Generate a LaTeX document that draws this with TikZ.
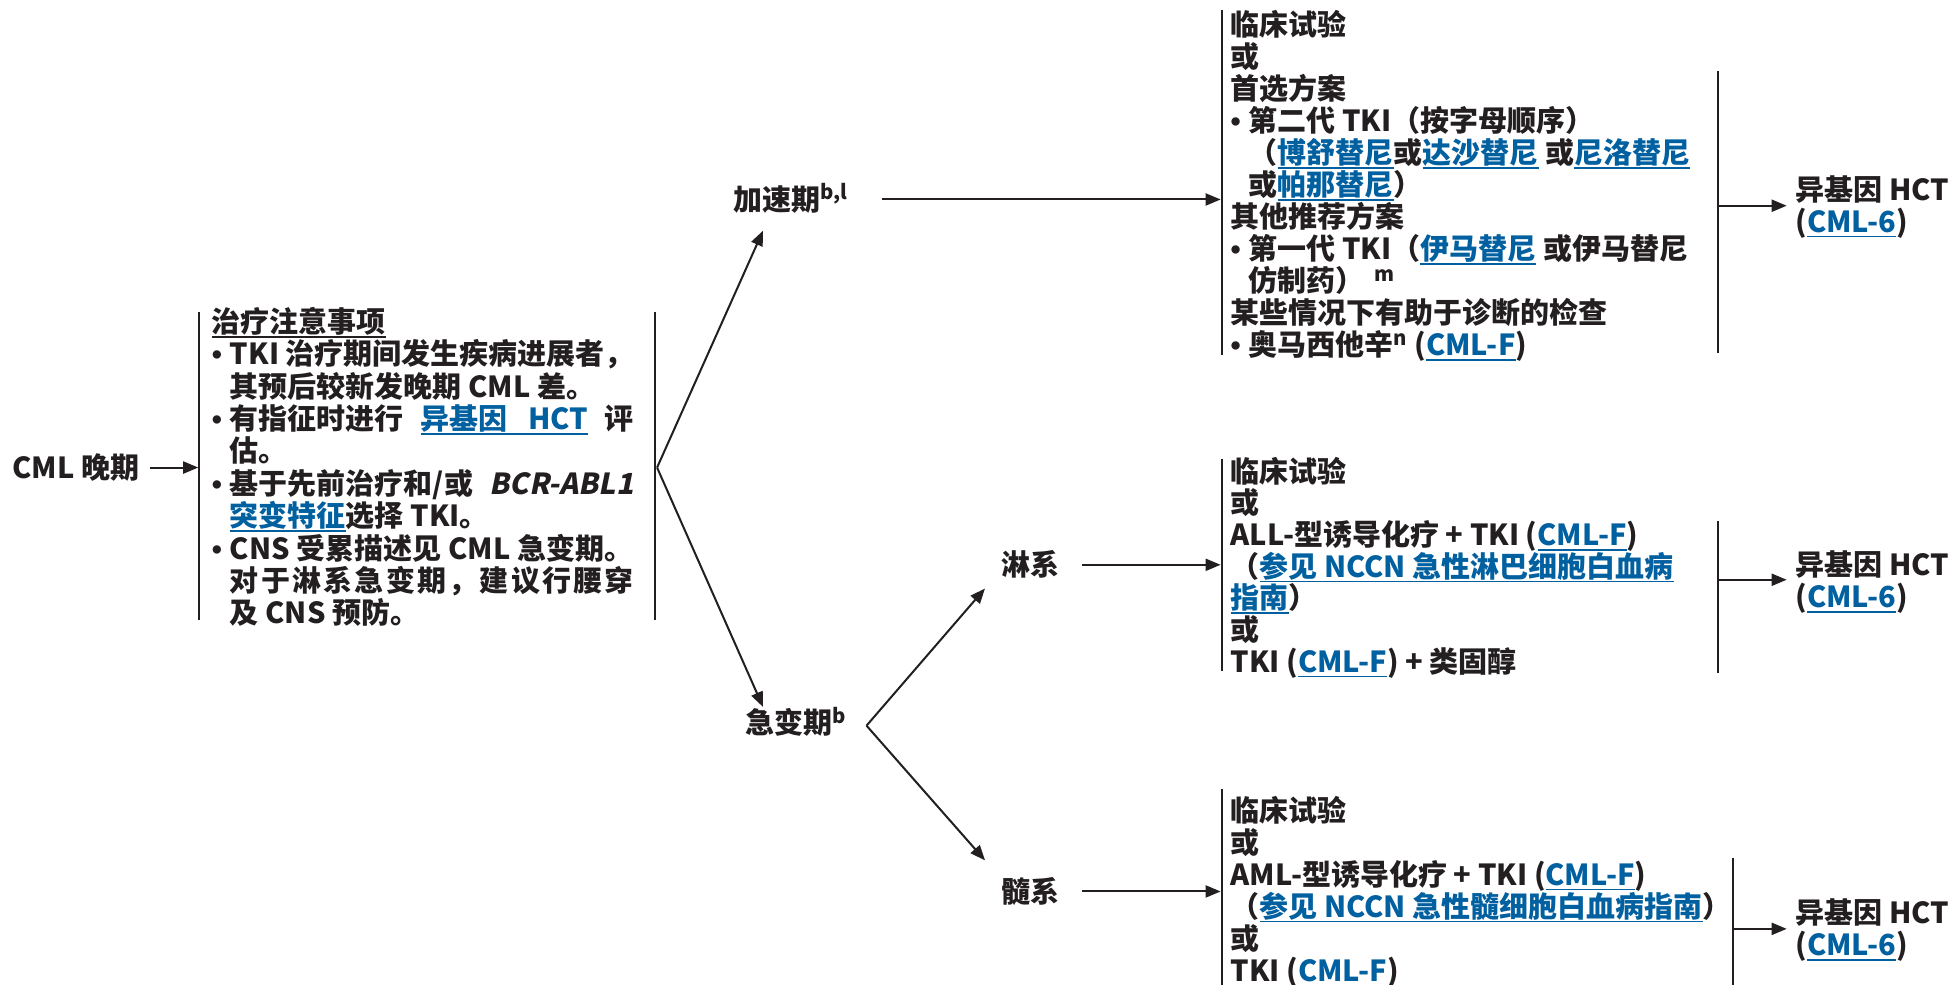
\documentclass[tikz,border=0pt]{standalone}
\usepackage{fontspec}
\setmainfont{Noto Sans CJK SC}
\newfontfamily\slfont{Noto Sans CJK SC}[FakeSlant=0.2]
\newfontfamily\bulfont{Liberation Sans}
\usetikzlibrary{arrows.meta}
\definecolor{textc}{RGB}{35,31,32}
\definecolor{linkc}{RGB}{0,96,160}
\newcommand\lk[1]{\leavevmode{\color{linkc}\setbox0=\hbox{#1}\rlap{\rule[-2.6pt]{\wd0}{0.9pt}}\box0}}
\newcommand\ulb[1]{\leavevmode{\setbox0=\hbox{#1}\rlap{\rule[-2.6pt]{\wd0}{0.9pt}}\box0}}
\newcommand\bul{\leavevmode\makebox[9pt][l]{\bulfont\bfseries •}}
\newcommand\ind{\leavevmode\hspace*{9pt}}
\newcommand\spread[2]{\hbox to #1{\spreadi#2\relax}}
\def\spreadi#1{\ifx#1\relax\else #1\expandafter\spreadii\fi}
\def\spreadii#1{\ifx#1\relax\else\hfil #1\expandafter\spreadii\fi}
\newcommand\blk[2]{\vtop{\hsize=560pt\parindent=0pt\parskip=0pt\baselineskip=#1\lineskiplimit=-\maxdimen\lineskip=0pt\rightskip=0pt plus 1fil #2\par}}
\begin{document}
\begin{tikzpicture}[x=0.6234pt,y=-0.6234pt,
  txt/.style={anchor=base west,inner sep=0pt,outer sep=0pt,text=textc,
    font=\bfseries\fontsize{14.5pt}{16pt}\selectfont},
  bar/.style={draw=textc,line width=1pt},
  arr/.style={draw=textc,line width=1pt,-{Triangle[length=7.5pt,width=6pt]}}]
\fill[white] (0,0) rectangle (1568,790);
\useasboundingbox (0,0) rectangle (1568,790);

% ---------- texts ----------
\node[txt] (cml) at (10,383.6) {CML 晚期};

\node[txt] (care) at (170,266.6) {\blk{16.2pt}{%
\ulb{治疗注意事项}\par
\bul TKI 治疗期间发生疾病进展者，\par
\ind 其预后较新发晚期 CML 差。\par
\bul \hbox to 202pt{有指征时进行\hfil\lk{异基因\hspace{0.7em}HCT}\hfil 评}\par
\ind 估。\par
\bul \hbox to 202pt{基于先前治疗和/或\hfil{\slfont\bfseries BCR-ABL1}}\par
\ind \lk{突变特征}选择 TKI。\par
\bul CNS 受累描述见 CML 急变期。\par
\ind \spread{202pt}{对于淋系急变期，建议行腰穿}\par
\ind 及 CNS 预防。}};

\node[txt] (acc) at (588,168.6) {加速期\textsuperscript{b,l}};
\node[txt] (blast) at (598,588.6) {急变期\textsuperscript{b}};
\node[txt] (lym) at (803,461.6) {淋系};
\node[txt] (mye) at (803,723.6) {髓系};

\node[txt] (accT) at (987,28.6) {\blk{16pt}{%
临床试验\par
或\par
首选方案\par
\bul 第二代 TKI（按字母顺序）\par
\ind （\lk{博舒替尼}或\lk{达沙替尼} 或\lk{尼洛替尼}\par
\ind 或\lk{帕那替尼}）\par
其他推荐方案\par
\bul 第一代 TKI（\lk{伊马替尼} 或伊马替尼\par
\ind 仿制药）\hspace{5pt}\textsuperscript{m}\par
某些情况下有助于诊断的检查\par
\bul 奥马西他辛\textsuperscript{n} (\lk{CML-F})}};

\node[txt] (lymT) at (987,386.6) {\blk{15.85pt}{%
临床试验\par
或\par
ALL-型诱导化疗 + TKI (\lk{CML-F})\par
（\lk{参见 NCCN 急性淋巴细胞白血病}\par
\lk{指南}）\par
或\par
TKI (\lk{CML-F}) + 类固醇}};

\node[txt] (myeT) at (987,658.6) {\blk{16pt}{%
临床试验\par
或\par
AML-型诱导化疗 + TKI (\lk{CML-F})\par
（\lk{参见 NCCN 急性髓细胞白血病指南}）\par
或\par
TKI (\lk{CML-F})}};

\node[txt] (hct1) at (1440,160.6) {\blk{16pt}{异基因 HCT\par (\lk{CML-6})}};
\node[txt] (hct2) at (1440,461.6) {\blk{16pt}{异基因 HCT\par (\lk{CML-6})}};
\node[txt] (hct3) at (1440,740.6) {\blk{16pt}{异基因 HCT\par (\lk{CML-6})}};

% ---------- bars ----------
\draw[bar] (160,250) -- (160,497);
\draw[bar] (525,250) -- (525,497);
\draw[bar] (980,8) -- (980,285);
\draw[bar] (1378,57) -- (1378,283);
\draw[bar] (980,368) -- (980,538);
\draw[bar] (1378,418) -- (1378,540);
\draw[bar] (980,633) -- (980,792);
\draw[bar] (1390,688) -- (1390,792);

% ---------- connector ends ----------
\coordinate (cmlS) at (120,375);
\coordinate (careL) at (159,375);
\coordinate (careR) at (527,375);
\coordinate (accIn) at (612,185);
\coordinate (blastIn) at (612,567);
\coordinate (accS) at (707,160);
\coordinate (accTL) at (979,160);
\coordinate (accTR) at (1378,165);
\coordinate (hct1In) at (1433,165);
\coordinate (blastS) at (695,582);
\coordinate (lymIn) at (790,472);
\coordinate (myeIn) at (790,690);
\coordinate (lymS) at (868,453);
\coordinate (lymTL) at (979,453);
\coordinate (lymTR) at (1378,465);
\coordinate (hct2In) at (1433,465);
\coordinate (myeS) at (868,715);
\coordinate (myeTL) at (979,715);
\coordinate (myeTR) at (1390,745);
\coordinate (hct3In) at (1433,745);

% ---------- connectors ----------
\draw[arr] (cmlS) -- (careL);
\draw[arr] (careR) -- (accIn);
\draw[arr] (careR) -- (blastIn);
\draw[arr] (accS) -- (accTL);
\draw[arr] (accTR) -- (hct1In);
\draw[arr] (blastS) -- (lymIn);
\draw[arr] (blastS) -- (myeIn);
\draw[arr] (lymS) -- (lymTL);
\draw[arr] (lymTR) -- (hct2In);
\draw[arr] (myeS) -- (myeTL);
\draw[arr] (myeTR) -- (hct3In);
\end{tikzpicture}
\end{document}
